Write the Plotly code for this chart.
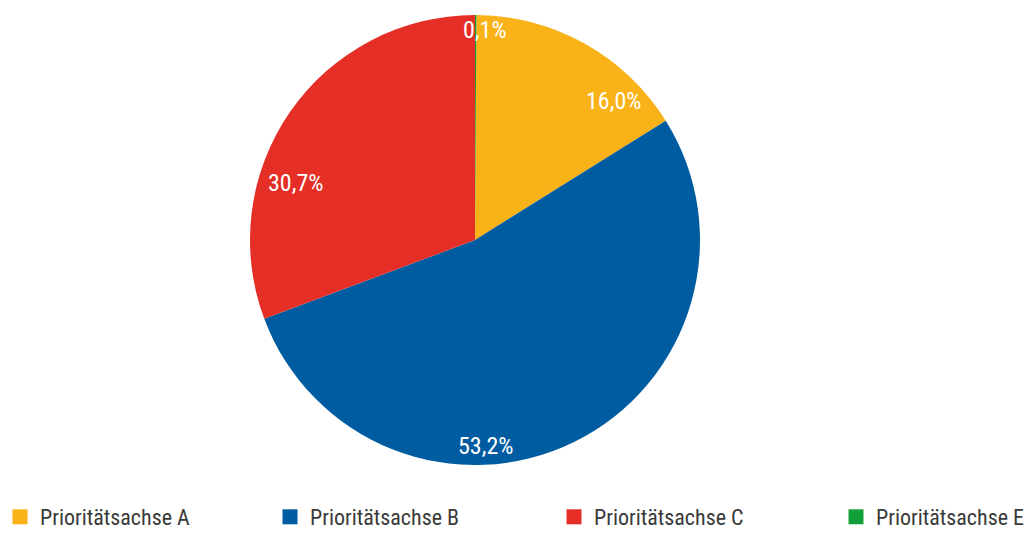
import plotly.graph_objects as go

# Anteile je Prioritätsachse (in %)
labels = ["Prioritätsachse A", "Prioritätsachse B", "Prioritätsachse C", "Prioritätsachse E"]
values = [16.0, 53.2, 30.7, 0.1]
colors = ["#FAB219", "#005CA0", "#E52E25", "#12A03A"]

# Beschriftungspositionen (Pixel im 1030x538-Bild)
label_pos = [(613, 101), (485, 446), (296, 183), (485, 30)]
# linke Kante der Legendeneinträge (Pixel)
legend_x = [0, 270, 554, 836]

W, H = 1030, 538
FONT = "Liberation Sans Narrow, Roboto Condensed, Arial Narrow, sans-serif"


def fmt(v):
    return f"{v:.1f}".replace(".", ",") + "%"


fig = go.Figure(go.Pie(
    labels=labels,
    values=values,
    marker=dict(colors=colors),
    sort=False,
    direction="clockwise",
    rotation=values[-1] / 100 * 360,
    textinfo="none",
    showlegend=False,
    hovertemplate="%{label}: %{value}%<extra></extra>",
    domain=dict(x=[250 / W, 700 / W], y=[1 - 465 / H, 1 - 15 / H]),
))

# Legende: ein Eintrag je Achse, jeweils eigene Legende für freie Abstände
legends = {}
for i, (name, col, lx) in enumerate(zip(labels, colors, legend_x)):
    key = "legend" if i == 0 else f"legend{i + 1}"
    fig.add_trace(go.Scatter(
        x=[None], y=[None], mode="markers", name=name,
        marker=dict(symbol="square", size=15, color=col),
        legend=key, hoverinfo="skip",
    ))
    legends[key] = dict(
        x=lx / W, xanchor="left",
        y=0, yanchor="bottom",
        bgcolor="rgba(0,0,0,0)",
        font=dict(family=FONT, size=22, color="#3a3a3a"),
    )

annotations = []
for v, (px, py) in zip(values, label_pos):
    annotations.append(dict(
        x=px / W, y=1 - py / H, xref="paper", yref="paper",
        xanchor="center", yanchor="middle",
        text=fmt(v), showarrow=False,
        font=dict(family=FONT, size=24, color="white"),
    ))

fig.update_layout(
    width=W,
    height=H,
    margin=dict(l=0, r=0, t=0, b=0, autoexpand=False),
    paper_bgcolor="white",
    plot_bgcolor="white",
    xaxis=dict(visible=False),
    yaxis=dict(visible=False),
    annotations=annotations,
    **legends,
)

fig.write_html("out.html", config={"displayModeBar": False},
               post_script="document.body.style.margin='0';")
